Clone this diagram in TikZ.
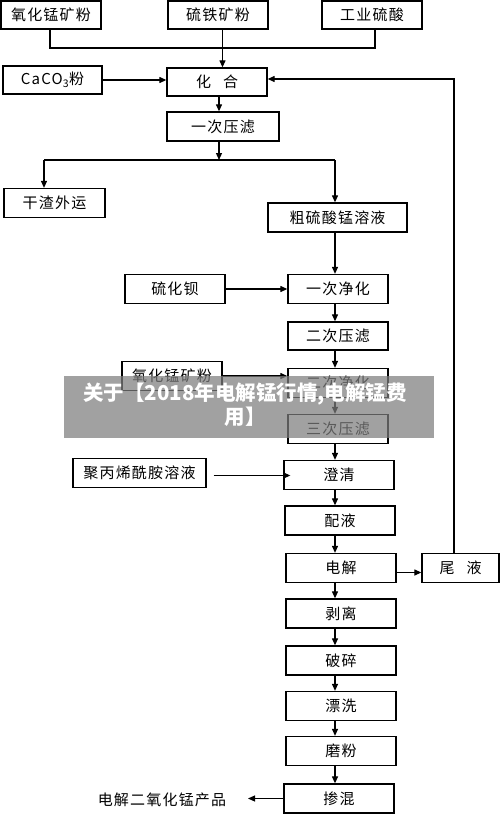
\documentclass[tikz,border=0pt]{standalone}
\usepackage{fontspec}
\setmainfont{Noto Sans CJK SC}
\newfontfamily\cjk[LetterSpace=8]{Noto Sans CJK SC}
\usetikzlibrary{arrows.meta}
\tikzset{
  box/.style={draw=black, line width=1.3pt, inner sep=0pt, minimum height=29pt,
    font=\cjk\fontsize{15}{18}\selectfont},
  txt/.style={inner sep=0pt, font=\cjk\fontsize{15}{18}\selectfont},
  ln/.style={line width=1.2pt, draw=black},
  arr/.style={line width=1.2pt, draw=black, -{Triangle[length=7pt,width=6pt]}},
  bannertext/.style={font=\bfseries\fontsize{20.5}{24}\selectfont, text=white, align=center, inner sep=0pt}
}
\begin{document}
\begin{tikzpicture}[x=1pt,y=-1pt]
\useasboundingbox (0,0) rectangle (500,814);
\fill[white] (0,0) rectangle (500,814);
% nodes
\node[box, minimum width=100pt, minimum height=28pt] (ore1) at (51,15) {氧化锰矿粉};
\node[box, minimum width=100pt, minimum height=28pt] (pyr) at (218,15) {硫铁矿粉};
\node[box, minimum width=100pt, minimum height=28pt] (acid) at (372,15) {工业硫酸};
\node[box, minimum width=99pt, minimum height=28pt] (caco) at (52.5,80) {CaCO\textsubscript{3}粉};
\node[box, minimum width=100pt, minimum height=28pt] (hh) at (217,82) {化\hspace{0.8em}合};
\node[box, minimum width=112pt] (f1) at (223,126.5) {一次压滤};
\node[box, minimum width=101pt] (slag) at (54.5,203) {干渣外运};
\node[box, minimum width=139pt] (crude) at (337.5,217.5) {粗硫酸锰溶液};
\node[box, minimum width=100pt] (bas) at (175,289) {硫化钡};
\node[box, minimum width=100pt] (p1) at (338,289) {一次净化};
\node[box, minimum width=100pt, minimum height=28pt] (f2) at (338,336) {二次压滤};
\node[box, minimum width=100pt] (ore2) at (172,376) {氧化锰矿粉};
\node[box, minimum width=100pt] (p2) at (338,383) {二次净化};
\node[box, minimum width=100pt] (f3) at (338,429) {三次压滤};
\node[box, minimum width=133pt] (pam) at (139.5,473) {聚丙烯酰胺溶液};
\node[box, minimum width=110pt] (clar) at (339,475) {澄清};
\node[box, minimum width=110pt] (mix) at (340,520.5) {配液};
\node[box, minimum width=110pt] (elec) at (341,568) {电解};
\node[box, minimum width=77pt] (tail) at (460.5,568) {尾\hspace{0.8em}液};
\node[box, minimum width=110pt] (strip) at (341,613.5) {剥离};
\node[box, minimum width=110pt] (crush) at (341,660.5) {破碎};
\node[box, minimum width=110pt] (rinse) at (341,706) {漂洗};
\node[box, minimum width=110pt] (grind) at (341,751) {磨粉};
\node[box, minimum width=110pt] (blend) at (339,798.5) {掺混};
\node[txt] (prod) at (162,800) {电解二氧化锰产品};
% connectors
\coordinate (jt) at (222.5,48);
\draw[ln] ([xshift=-1pt]ore1.south) -- ([xshift=-1pt]ore1.south |- jt) -- ([xshift=3pt]acid.south |- jt) -- ([xshift=3pt]acid.south);
\draw[arr] ([xshift=4.5pt]pyr.south) -- ([xshift=4.5pt]pyr.south |- hh.north);
\draw[arr] (caco.east) -- (caco.east -| hh.west);
\draw[arr] ([xshift=2pt]hh.south) -- ([xshift=2pt]hh.south |- f1.north);
\coordinate (j2) at (219,160);
\coordinate (jl) at (44,160);
\coordinate (jr) at (335,160);
\draw[arr] ([xshift=-4pt]f1.south) -- (j2);
\draw[ln] (jl) -- (jr);
\draw[arr] (jl) -- (jl |- slag.north);
\draw[arr] (jr) -- (jr |- crude.north);
\coordinate (col) at (335,0);
\draw[arr] (crude.south -| col) -- (p1.north -| col);
\draw[arr] (bas.east) -- (p1.west);
\draw[arr] (p1.south -| col) -- (f2.north -| col);
\draw[arr] (ore2.east) -- (ore2.east -| p2.west);
\draw[arr] (f2.south -| col) -- (p2.north -| col);
\draw[arr] (p2.south -| col) -- (f3.north -| col);
\draw[arr] (f3.south -| col) -- (clar.north -| col);
\draw[arr] ([xshift=7pt,yshift=-2.5pt]pam.east) -- ([xshift=7pt,yshift=-2.5pt]pam.east -| clar.west);
\draw[arr] (clar.south -| col) -- (mix.north -| col);
\draw[arr] (mix.south -| col) -- (elec.north -| col);
\draw[arr] ([yshift=-4.5pt]elec.east) -- ([yshift=-4.5pt]elec.east -| tail.west);
\draw[arr] ([xshift=-6.5pt]tail.north) |- ([yshift=3pt]hh.east);
\draw[arr] (elec.south -| col) -- (strip.north -| col);
\draw[arr] (strip.south -| col) -- (crush.north -| col);
\draw[arr] (crush.south -| col) -- (rinse.north -| col);
\draw[arr] (rinse.south -| col) -- (grind.north -| col);
\draw[arr] (grind.south -| col) -- (blend.north -| col);
\coordinate (pend) at (248,798.5);
\draw[arr] (blend.west) -- (pend);
% overlay banner
\fill[fill={rgb,255:red,125;green,125;blue,125}, fill opacity=0.72] (64,376) rectangle (434,438);
\node[bannertext] (ban) at (245,405) {关于【2018年电解锰行情,电解锰费\\用】};
\end{tikzpicture}
\end{document}
